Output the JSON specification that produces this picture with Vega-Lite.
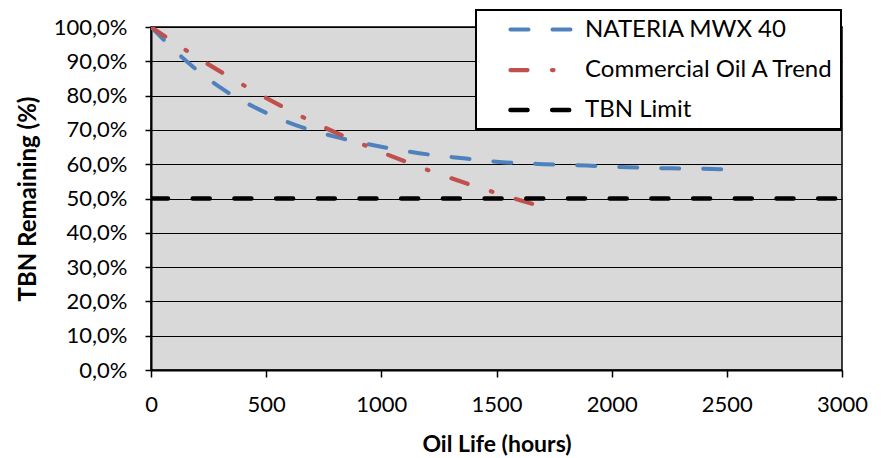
{
  "$schema": "https://vega.github.io/schema/vega-lite/v6.json",
  "width": 691,
  "height": 343,
  "autosize": {"type": "none"},
  "padding": {"left": 151, "top": 27, "right": 40, "bottom": 88},
  "background": "#ffffff",
  "config": {
    "view": {"fill": "#d9d9d9", "stroke": "#000000", "strokeWidth": 1.5},
    "font": "Lato"
  },
  "data": {
    "values": [
      {"series": "NATERIA MWX 40", "hours": 0, "pct": 100},
      {"series": "NATERIA MWX 40", "hours": 158, "pct": 89.8},
      {"series": "NATERIA MWX 40", "hours": 302, "pct": 82.3},
      {"series": "NATERIA MWX 40", "hours": 462, "pct": 76.2},
      {"series": "NATERIA MWX 40", "hours": 628, "pct": 71.4},
      {"series": "NATERIA MWX 40", "hours": 806, "pct": 67.9},
      {"series": "NATERIA MWX 40", "hours": 983, "pct": 65.3},
      {"series": "NATERIA MWX 40", "hours": 1164, "pct": 63.2},
      {"series": "NATERIA MWX 40", "hours": 1345, "pct": 61.8},
      {"series": "NATERIA MWX 40", "hours": 1525, "pct": 60.6},
      {"series": "NATERIA MWX 40", "hours": 1706, "pct": 60.0},
      {"series": "NATERIA MWX 40", "hours": 1892, "pct": 59.6},
      {"series": "NATERIA MWX 40", "hours": 2070, "pct": 59.1},
      {"series": "NATERIA MWX 40", "hours": 2253, "pct": 58.8},
      {"series": "NATERIA MWX 40", "hours": 2438, "pct": 58.6},
      {"series": "NATERIA MWX 40", "hours": 2490, "pct": 58.5},
      {"series": "Commercial Oil A Trend", "hours": 0, "pct": 100},
      {"series": "Commercial Oil A Trend", "hours": 155, "pct": 93.1},
      {"series": "Commercial Oil A Trend", "hours": 400, "pct": 83.1},
      {"series": "Commercial Oil A Trend", "hours": 654, "pct": 73.9},
      {"series": "Commercial Oil A Trend", "hours": 915, "pct": 65.9},
      {"series": "Commercial Oil A Trend", "hours": 1182, "pct": 58.8},
      {"series": "Commercial Oil A Trend", "hours": 1457, "pct": 52.5},
      {"series": "Commercial Oil A Trend", "hours": 1735, "pct": 46.9},
      {"series": "TBN Limit", "hours": 0, "pct": 50},
      {"series": "TBN Limit", "hours": 3000, "pct": 50}
    ]
  },
  "mark": {"type": "line", "clip": true, "strokeCap": "round", "interpolate": "monotone"},
  "encoding": {
    "x": {
      "field": "hours",
      "type": "quantitative",
      "scale": {"domain": [0, 3000], "nice": false, "zero": true},
      "axis": {
        "values": [0, 500, 1000, 1500, 2000, 2500, 3000],
        "format": "d",
        "title": "Oil Life (hours)",
        "titleFont": "Lato",
        "titleFontSize": 23,
        "titleFontWeight": "bold",
        "titleColor": "#000000",
        "titlePadding": 18,
        "labelFont": "Lato",
        "labelFontSize": 22,
        "labelColor": "#000000",
        "labelPadding": 17,
        "labelFlush": false,
        "tickSize": 7,
        "tickColor": "#000000",
        "tickWidth": 1.5,
        "domainColor": "#000000",
        "domainWidth": 2,
        "grid": false
      }
    },
    "y": {
      "field": "pct",
      "type": "quantitative",
      "scale": {"domain": [0, 100], "nice": false},
      "axis": {
        "values": [0, 10, 20, 30, 40, 50, 60, 70, 80, 90, 100],
        "labelExpr": "replace(format(datum.value, '.1f'), '.', ',') + '%'",
        "title": "TBN Remaining (%)",
        "titleFont": "Lato",
        "titleFontSize": 24,
        "titleFontWeight": "bold",
        "titleColor": "#000000",
        "titlePadding": 13,
        "labelFont": "Lato",
        "labelFontSize": 22,
        "labelColor": "#000000",
        "labelPadding": 18,
        "labelFlush": false,
        "tickSize": 6,
        "tickColor": "#000000",
        "tickWidth": 1.5,
        "domainColor": "#000000",
        "domainWidth": 2,
        "grid": true,
        "gridColor": "#000000",
        "gridWidth": 1.2
      }
    },
    "color": {
      "field": "series",
      "type": "nominal",
      "scale": {
        "domain": ["NATERIA MWX 40", "Commercial Oil A Trend", "TBN Limit"],
        "range": ["#4f81bd", "#c0504d", "#000000"]
      },
      "legend": {
        "title": null,
        "orient": "none",
        "legendX": 325,
        "legendY": -17,
        "padding": 7,
        "fillColor": "#ffffff",
        "strokeColor": "#000000",
        "symbolType": "M-3,0H3",
        "symbolSize": 441,
        "symbolStrokeWidth": 4.5,
        "symbolOffset": 46,
        "labelOffset": 30,
        "labelLimit": 600,
        "labelExpr": "datum.label + '\u00a0\u00a0\u00a0\u00a0\u00a0\u00a0'",
        "labelFont": "Lato",
        "labelFontSize": 24,
        "labelColor": "#000000",
        "rowPadding": 15,
        "encode": {
          "symbols": {"update": {"strokeCap": {"value": "round"}}},
          "legend": {"update": {"strokeWidth": {"value": 2}}}
        }
      }
    },
    "strokeDash": {
      "field": "series",
      "type": "nominal",
      "scale": {
        "domain": ["NATERIA MWX 40", "Commercial Oil A Trend", "TBN Limit"],
        "range": [[18, 24], [17, 24.5, 1.5, 24.5], [17, 24.7]]
      },
      "legend": {
        "title": null,
        "orient": "none",
        "legendX": 325,
        "legendY": -17
      }
    },
    "strokeWidth": {
      "field": "series",
      "type": "nominal",
      "scale": {
        "domain": ["NATERIA MWX 40", "Commercial Oil A Trend", "TBN Limit"],
        "range": [4, 4.5, 5]
      },
      "legend": null
    },
    "order": {"field": "hours", "type": "quantitative"}
  }
}
